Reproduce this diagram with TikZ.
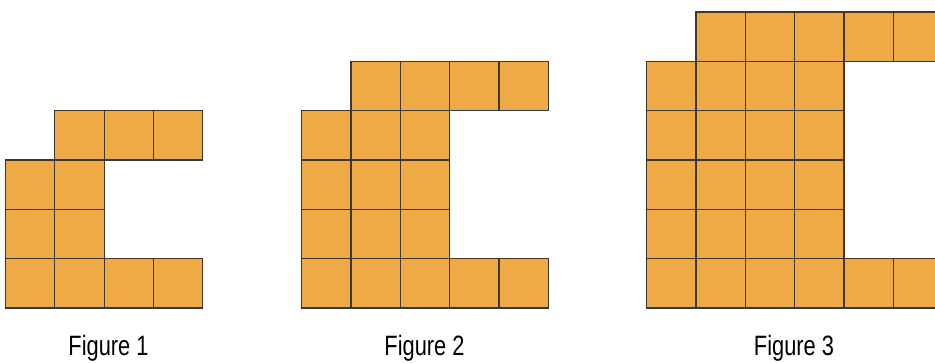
\documentclass[tikz,border=0pt]{standalone}
\usepackage{fontspec}
\setmainfont{Liberation Sans}[FakeStretch=0.78]
\definecolor{tile}{RGB}{239,170,70}
\definecolor{tileline}{RGB}{60,56,52}
\begin{document}
\begin{tikzpicture}[x=1pt,y=-1pt,
  cell/.style={fill=tile,draw=tileline,line width=1.2pt},
  caption/.style={anchor=base,inner sep=0pt,font=\fontsize{28}{30}\selectfont}]
\useasboundingbox (0,0) rectangle (935,362);
\clip (0,0) rectangle (935,362);
\def\s{49.33}
% Figure 1
\def\xo{5.5}
\foreach \i/\j in {0/0,1/0,2/0,3/0,0/1,1/1,0/2,1/2,1/3,2/3,3/3}
  \draw[cell] (\xo+\i*\s,308-\j*\s) rectangle (\xo+\i*\s+\s,308-\j*\s-\s);
% Figure 2
\def\xo{301.7}
\foreach \i/\j in {0/0,1/0,2/0,3/0,4/0,0/1,1/1,2/1,0/2,1/2,2/2,0/3,1/3,2/3,1/4,2/4,3/4,4/4}
  \draw[cell] (\xo+\i*\s,308-\j*\s) rectangle (\xo+\i*\s+\s,308-\j*\s-\s);
% Figure 3
\def\xo{646.7}
\foreach \i/\j in {0/0,1/0,2/0,3/0,4/0,5/0,0/1,1/1,2/1,3/1,0/2,1/2,2/2,3/2,0/3,1/3,2/3,3/3,0/4,1/4,2/4,3/4,1/5,2/5,3/5,4/5,5/5}
  \draw[cell] (\xo+\i*\s,308-\j*\s) rectangle (\xo+\i*\s+\s,308-\j*\s-\s);
\node[caption] (cap1) at (108.5,355) {Figure 1};
\node[caption] (cap2) at (424.5,355) {Figure 2};
\node[caption] (cap3) at (794,355) {Figure 3};
\end{tikzpicture}
\end{document}
